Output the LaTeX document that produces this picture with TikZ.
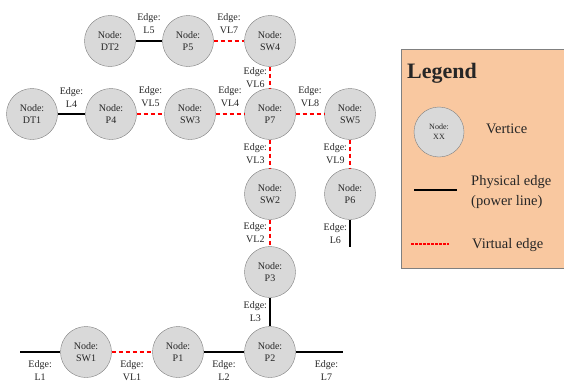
\documentclass[tikz,border=0pt]{standalone}
\usepackage{fontspec}
\setmainfont{Liberation Serif}
\definecolor{vertexfill}{HTML}{D9D9D9}
\definecolor{legendfill}{HTML}{F9C8A0}

\begin{document}
\begin{tikzpicture}[
    x=1pt, y=-1pt,
    vertex/.style={circle, draw=black!50, fill=vertexfill, minimum size=51pt, inner sep=0pt,
                   align=center, text=black!85, font=\fontsize{10}{12}\selectfont},
    phys/.style={line width=2pt, black},
    virt/.style={line width=2pt, red, dash pattern=on 4pt off 3pt},
    lbl/.style={align=center, inner sep=1pt, text=black!85, font=\fontsize{10}{13}\selectfont},
    legtext/.style={anchor=west, inner sep=0pt, align=left, text=black!85, font=\fontsize{14.5}{20}\selectfont}
]
    \useasboundingbox (0,0) rectangle (564,388);

    % vertices
    \node[vertex] (DT2) at (110,41) {Node:\\DT2};
    \node[vertex] (P5)  at (188,41) {Node:\\P5};
    \node[vertex] (SW4) at (270,41) {Node:\\SW4};
    \node[vertex] (DT1) at (32,114) {Node:\\DT1};
    \node[vertex] (P4)  at (111,114) {Node:\\P4};
    \node[vertex] (SW3) at (190,114) {Node:\\SW3};
    \node[vertex] (P7)  at (270,114) {Node:\\P7};
    \node[vertex] (SW5) at (350,114) {Node:\\SW5};
    \node[vertex] (SW2) at (270,194) {Node:\\SW2};
    \node[vertex] (P6)  at (350,194) {Node:\\P6};
    \node[vertex] (P3)  at (270,272) {Node:\\P3};
    \node[vertex] (SW1) at (86,352) {Node:\\SW1};
    \node[vertex] (P1)  at (178,352) {Node:\\P1};
    \node[vertex] (P2)  at (270,352) {Node:\\P2};

    % loose line ends
    \coordinate (L1end) at (20,352);
    \coordinate (L6end) at (350,247);
    \coordinate (L7end) at (343,352);

    % edges
    \draw[phys] (DT2) -- node[lbl, above=5pt] {Edge:\\L5} (P5);
    \draw[virt] (P5) -- node[lbl, above=5pt] {Edge:\\VL7} (SW4);
    \draw[virt] (SW4) -- node[lbl, left=1pt] {Edge:\\VL6} (P7);
    \draw[phys] (DT1) -- node[lbl, above=5pt] {Edge:\\L4} (P4);
    \draw[virt] (P4) -- node[lbl, above=5pt] {Edge:\\VL5} (SW3);
    \draw[virt] (SW3) -- node[lbl, above=5pt] {Edge:\\VL4} (P7);
    \draw[virt] (P7) -- node[lbl, above=5pt] {Edge:\\VL8} (SW5);
    \draw[virt] (P7) -- node[lbl, left=1pt] {Edge:\\VL3} (SW2);
    \draw[virt] (SW5) -- node[lbl, left=1pt] {Edge:\\VL9} (P6);
    \draw[phys] (P6) -- node[lbl, left=1pt] {Edge:\\L6} (L6end);
    \draw[virt] (SW2) -- node[lbl, left=1pt] {Edge:\\VL2} (P3);
    \draw[phys] (P3) -- node[lbl, left=1pt] {Edge:\\L3} (P2);
    \draw[phys] (L1end) -- node[lbl, below=7pt] {Edge:\\L1} (SW1);
    \draw[virt] (SW1) -- node[lbl, below=7pt] {Edge:\\VL1} (P1);
    \draw[phys] (P1) -- node[lbl, below=7pt] {Edge:\\L2} (P2);
    \draw[phys] (P2) -- node[lbl, below=7pt, pos=0.65] {Edge:\\L7} (L7end);

    % legend
    \draw[draw=black!50, fill=legendfill] (401,49) rectangle (566,268);
    \node[legtext, font=\bfseries\fontsize{22}{24}\selectfont] (legtitle) at (407,73) {Legend};
    \node[vertex, minimum size=50pt, font=\fontsize{8}{10}\selectfont] (legvertex) at (439,132) {Node:\\XX};
    \node[legtext] (legvertextext) at (486,129) {Vertice};
    \coordinate (physA) at (414,190);
    \coordinate (physB) at (457,190);
    \draw[phys] (physA) -- (physB);
    \node[legtext] (legphystext) at (471,192) {Physical edge\\(power line)};
    \coordinate (virtA) at (411,244);
    \coordinate (virtB) at (449,244);
    \draw[virt, line width=1.3pt, dash pattern=on 2.5pt off 1.5pt] (virtA) -- (virtB);
    \node[legtext] (legvirttext) at (472,245) {Virtual edge};
\end{tikzpicture}
\end{document}
